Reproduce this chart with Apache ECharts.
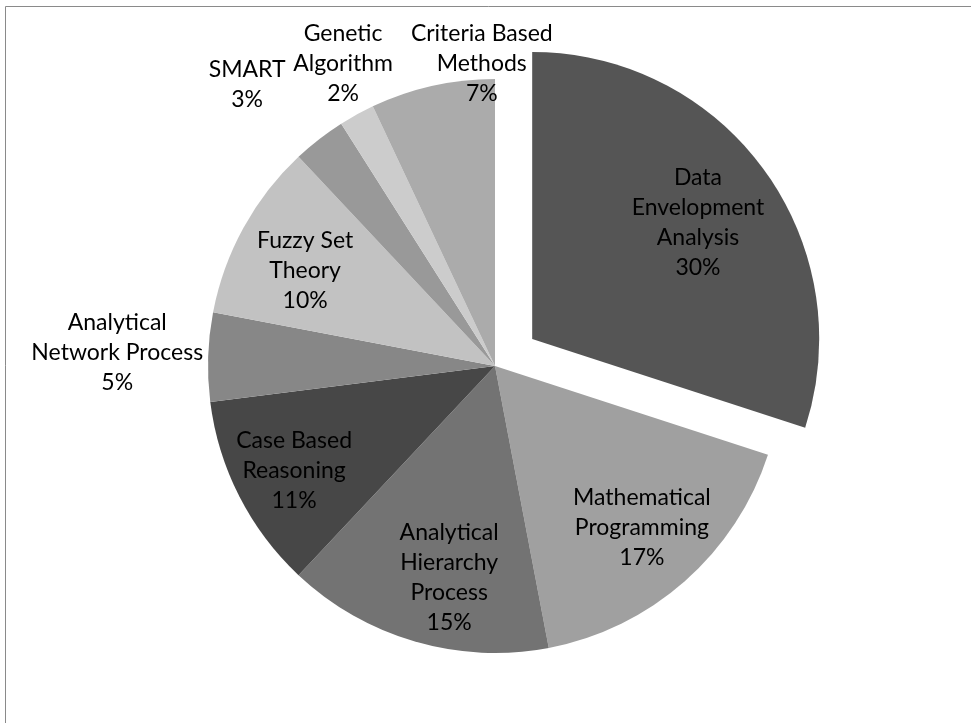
<!DOCTYPE html>
<html>
<head>
<meta charset="utf-8">
<script src="https://cdn.jsdelivr.net/npm/echarts@6/dist/echarts.min.js"></script>
<style>
    html, body { margin: 0; padding: 0; background: #fff; }
    #chart { width: 971px; height: 723px; }
</style>
</head>
<body>
<div id="chart"></div>
<script>
// slices, clockwise from 12 o'clock
const categories = [
    'Data\nEnvelopment\nAnalysis',
    'Mathematical\nProgramming',
    'Analytical\nHierarchy\nProcess',
    'Case Based\nReasoning',
    'Analytical\nNetwork Process',
    'Fuzzy Set\nTheory',
    'SMART',
    'Genetic\nAlgorithm',
    'Criteria Based\nMethods'
];
const shares = [30, 17, 15, 11, 5, 10, 3, 2, 7];

const colors = ['#555555', '#a0a0a0', '#737373', '#474747', '#878787',
                '#c2c2c2', '#999999', '#cccccc', '#ababab'];

// where each label sits: [fraction of radius, angle clockwise from top],
// measured from the slice's own centre
const labelSpots = [
    [0.705, 55], [0.762, 137.8], [0.756, 192.2], [0.79, 242.4], [1.317, 272],
    [0.74, 296.6], [1.306, 318.6], [1.178, 333.3], [1.053, 357.5]
];

const R = 287;
const total = shares.reduce((a, b) => a + b, 0);

function labelOffset(i) {
    let before = 0;
    for (let k = 0; k < i; k++) before += shares[k];
    let mid = (before + shares[i] / 2) / total * 2 * Math.PI;
    // echarts puts inside labels at r/2 + 3 along the bisector
    let base = R / 2 + 3;
    let a = labelSpots[i][1] * Math.PI / 180;
    let d = labelSpots[i][0] * R;
    return [
        d * Math.sin(a) - base * Math.sin(mid),
        -d * Math.cos(a) + base * Math.cos(mid)
    ];
}

const chart = echarts.init(document.getElementById('chart'));

chart.setOption({
    animation: false,
    graphic: [{
        type: 'rect',
        shape: { x: 5.5, y: 6.5, width: 1200, height: 1200 },
        style: { fill: 'none', stroke: '#8a8a8a', lineWidth: 1 },
        silent: true
    }],
    series: [{
        type: 'pie',
        center: [495, 366],
        radius: R,
        startAngle: 90,
        clockwise: true,
        avoidLabelOverlap: false,
        selectedMode: 'multiple',
        selectedOffset: 46,
        label: {
            show: true,
            position: 'inside',
            formatter: '{b}\n{c}%',
            fontFamily: 'Lato',
            fontSize: 23,
            lineHeight: 30,
            color: '#000',
            align: 'center'
        },
        labelLine: { show: false },
        itemStyle: { borderWidth: 0 },
        emphasis: { disabled: true },
        data: categories.map((name, i) => {
            let off = labelOffset(i);
            return {
                name: name,
                value: shares[i],
                selected: i === 0,
                itemStyle: { color: colors[i] },
                label: { offset: off },
                select: { label: { offset: off } }
            };
        })
    }]
});
</script>
</body>
</html>
